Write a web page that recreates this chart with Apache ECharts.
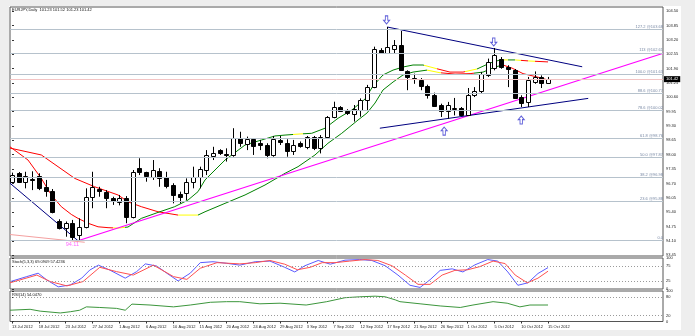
<!DOCTYPE html>
<html>
<head>
<meta charset="utf-8">
<script src="https://cdn.jsdelivr.net/npm/echarts@6/dist/echarts.min.js"></script>
<style>
  html, body { margin: 0; padding: 0; background: #eeeeee; }
  #chart { width: 695px; height: 336px; }
</style>
</head>
<body>
<div id="chart"></div>
<script>
// EURJPY daily candles, bar 0 = 13 Jul 2012 ... bar 80 = 15 Oct 2012
const open  = [96.77,97.17,96.78,96.88,97.05,96.55,96.36,95.00,94.67,94.90,94.37,94.74,96.10,96.45,96.33,96.03,95.88,96.06,95.20,97.41,
               97.20,97.01,97.26,97.01,96.63,96.21,96.25,96.75,97.01,97.31,97.94,98.21,98.03,97.99,98.77,98.49,98.70,98.52,98.44,97.99,
               98.67,98.55,98.18,98.52,98.37,98.79,98.29,98.79,99.69,100.17,99.98,99.84,100.02,100.48,101.05,102.74,102.59,102.80,102.95,101.77,
               101.47,101.37,101.11,100.69,100.24,99.98,100.06,100.11,99.81,100.69,100.87,101.62,101.92,102.34,101.97,101.82,100.61,100.39,101.29,101.52,
               101.23];
const high  = [97.19,97.22,97.23,97.25,97.16,96.86,96.45,95.08,94.98,95.05,95.12,96.48,97.23,96.55,96.40,96.10,96.18,96.13,97.31,97.84,
               97.23,97.76,97.39,97.23,96.71,96.33,96.93,97.46,97.46,98.21,98.36,98.25,98.29,99.20,99.04,98.82,98.74,98.67,98.52,98.85,
               98.85,98.70,98.67,98.60,98.85,98.85,98.89,99.75,100.40,100.20,100.06,100.25,100.55,101.16,102.89,102.82,103.78,103.19,103.60,101.82,
               101.67,101.47,101.17,100.81,100.31,100.39,100.57,100.16,101.02,101.06,101.74,102.35,102.83,102.42,102.05,101.88,100.69,101.52,101.77,101.59,
               101.52];
const low   = [96.72,96.72,96.48,96.40,96.40,96.10,95.35,94.62,94.29,94.11,94.14,94.67,95.58,96.10,95.58,95.73,95.71,94.90,95.12,97.08,
               96.78,96.86,96.55,96.48,95.80,95.80,95.95,96.48,96.48,97.08,97.76,97.99,97.69,97.91,98.36,98.21,97.99,98.21,97.84,97.91,
               98.44,97.91,97.99,98.32,98.25,98.21,98.06,98.74,99.65,99.95,99.80,99.50,99.72,100.02,101.01,102.56,102.56,102.56,101.79,100.92,
               101.21,100.92,100.54,100.16,99.71,99.63,99.78,99.78,99.75,100.61,100.76,101.52,101.82,101.89,101.06,100.52,100.16,100.16,101.21,101.02,
               101.23];
const close = [97.08,96.77,97.05,96.85,96.48,96.37,95.40,94.67,94.90,94.29,94.74,96.10,96.55,96.36,96.03,95.91,96.03,95.20,97.23,97.20,
               97.05,97.31,96.96,96.60,96.18,96.10,96.78,97.01,97.34,97.99,98.06,98.06,97.97,98.77,98.52,98.70,98.40,98.43,97.99,98.70,
               98.58,98.18,98.44,98.40,98.79,98.29,98.79,99.69,100.17,99.99,99.87,100.06,100.48,101.05,102.77,102.62,102.89,102.95,101.82,101.52,
               101.41,101.11,100.69,100.20,99.98,100.24,100.10,99.81,100.72,100.87,101.67,102.20,102.50,101.97,101.87,100.57,100.35,101.37,101.52,101.23,
               101.42];

// time-scale labels, one every 4 bars
const tickDates = ['13 Jul 2012','18 Jul 2012','23 Jul 2012','27 Jul 2012','1 Aug 2012','6 Aug 2012','10 Aug 2012','15 Aug 2012',
                   '20 Aug 2012','24 Aug 2012','29 Aug 2012','3 Sep 2012','7 Sep 2012','12 Sep 2012','17 Sep 2012','21 Sep 2012',
                   '26 Sep 2012','1 Oct 2012','5 Oct 2012','10 Oct 2012','15 Oct 2012'];
const priceTicks = [93.45,94.10,94.75,95.40,96.05,96.70,97.35,98.00,98.65,99.30,99.95,100.60,101.25,101.90,102.55,103.20,103.85,104.50];
const lastPrice = 101.42;
const swingLow = 94.11;

// Fibonacci expansion levels
const fibLevels = [103.68,102.61,101.63,100.77,100.02,98.76,97.87,96.98,95.88,94.11];
const fibLabels = ['127.2 @103.68','113 @102.61','100.0 @101.63','88.6 @100.77','78.6 @100.02',
                   '61.8 @98.76','50.0 @97.87','38.2 @96.98','23.6 @95.88','0.0'];

// moving averages [bar, price]; colour by slope: red falling, yellow flat, green rising
const maA = [[-0.3,98.36],[2.39,97.76],[4.37,96.93],[5.87,96.18],[7.36,95.65],[8.85,95.30],[9.85,95.12],[11.34,94.90],[12.84,94.74],
             [14.33,94.70],[15.82,94.68],[17.31,94.73],[19.3,95.12],[21.79,95.39],[24.28,95.65],[26.27,95.95],[27.76,96.33],[28.81,96.86],
             [31.79,97.76],[34.78,98.44],[37.27,98.67],[39.25,98.85],[40.75,98.89],[42.99,98.94],[44.73,98.97],[46.72,99.20],[48.66,99.65],
             [50.7,100.02],[52.69,100.52],[53.88,101.11],[55.37,101.61],[56.87,101.83],[58.36,101.97],[59.85,102.06],[61.34,102.06],
             [63.43,101.89],[65.37,101.74],[67.31,101.74],[69.4,101.88],[71.34,102.15],[72.84,102.29],[75.07,102.29],[77.31,102.24],[80,102.20]];
const maAColors = [[-1,15.1,'#ff0000'],[15.1,16.8,'#ffff00'],[16.8,42.0,'#008000'],[42.0,43.5,'#ffff00'],[43.5,61.5,'#008000'],
                   [61.5,63.4,'#ffff00'],[63.4,67.6,'#ff0000'],[67.6,69.4,'#ffff00'],[69.4,73,'#008000'],[73,74,'#ffff00'],
                   [74,75,'#008000'],[75,76,'#ffff00'],[76,77,'#ff0000'],[77,78,'#ffff00'],[78,81,'#ff0000']];
const maB = [[-0.3,98.30],[4.37,97.99],[9.36,96.93],[12.34,96.55],[15.82,96.18],[17.31,95.87],[19.3,95.65],[21.79,95.42],[24.78,95.27],
             [27.76,95.27],[28.81,95.42],[31.79,95.80],[34.78,96.18],[37.76,96.63],[40.75,97.16],[42.69,97.46],[45.22,97.99],[47.16,98.52],
             [49.21,98.97],[51.64,99.57],[52.99,99.89],[54.18,100.34],[55.37,100.93],[56.87,101.29],[58.36,101.61],[59.85,101.74],[61.94,101.83],
             [63.88,101.71],[66.12,101.65],[68.36,101.67],[70.3,101.74],[72.09,101.97],[73.28,102.06],[74.63,101.92],[76.27,101.67],[78.36,101.52],[80,101.38]];
const maBColors = [[-1,24.8,'#ff0000'],[24.8,27.8,'#ffff00'],[27.8,62,'#008000'],[62,64,'#ffff00'],[64,69,'#ff0000'],
                   [69,73.3,'#008000'],[73.3,81,'#ff0000']];

// trend lines [bar, price]
const lineSupport   = [[9.85,94.11],[97.2,102.59]];
const lineFall      = [[-0.3,96.71],[9.85,94.11]];
const lineOldLow    = [[-0.3,94.39],[10.85,94.04]];
const lineWedgeTop  = [[56,103.78],[85.1,101.98]];
const lineWedgeBase = [[54.9,99.20],[86,100.55]];
const arrowsDown = [[55.9,104.10],[71.9,103.10]];
const arrowsUp   = [[64.5,99.07],[76,99.57]];

// Stochastic(5,3,3) and RSI(14) readings [bar, value]
const stochK = [[-0.3,23.5],[2.2,40],[3.9,51],[5.2,29],[6.9,7],[8.7,13],[10.4,35],[11.6,61],[12.9,77],[14.6,61],[16.9,35],[18.6,56],
                [19.9,81],[21.6,74],[23.1,51],[24.8,26],[26.6,51],[28.1,85],[30,88],[32,83],[34,77],[36.3,88],[38.5,90],[40.7,70],
                [42.2,55],[43.7,75],[45.7,92],[47.5,80],[49.7,93],[51.9,95],[53.7,92],[55.7,75],[57.6,45],[59.4,12],[60.9,5],[62.4,30],
                [63.9,60],[65.7,65],[67.3,55],[69.1,78],[71,95],[72.5,90],[74,55],[75.5,12],[77,20],[78.5,50],[80,69.09]];
const stochD = [[-0.3,20],[3.7,45],[5.7,24],[8.2,10],[10.6,24],[13.1,70],[15.6,56],[18.1,45],[21.1,77],[24.1,40],[26.1,31],[28.1,67],
                [30.6,85],[34,81],[36.3,85],[38.5,92],[40.7,80],[42.6,62],[44.5,70],[46.3,85],[48.2,85],[50.4,90],[52.7,95],[54.6,92],
                [56.7,75],[58.7,45],[60.6,15],[62.4,15],[64.2,45],[66.1,60],[68,62],[69.8,72],[71.8,90],[73.6,82],[75.1,45],[76.9,20],
                [78.5,35],[80,57.42]];
const rsi = [[-0.3,37],[2.7,40],[4.2,34],[7.2,28],[8.7,32],[10.1,37],[11.1,48],[13.1,46],[15.6,43],[16.9,37],[17.9,57],[20.6,54],
             [24.1,48],[26.6,54],[29.6,63],[32,65],[34,65],[37,58],[40,60],[43.9,54],[46.97,65],[49.7,78],[51.9,81],[54.2,83],
             [55.7,81],[57.2,71],[57.9,65],[60.9,58],[63.9,51],[66.9,46],[68.8,54],[71.8,65],[73.9,60],[75.8,48],[77.3,54],[80,54.05]];
const stochLevels = [25, 75];
const rsiLevels = [20, 80];

// ---------------------------------------------------------------
const FONT = 'Liberation Sans';
const xMin = -0.3, xMax = 97.16;
const tickIdx = tickDates.map((d, k) => k * 4);
const candles = open.map((o, i) => [i, o, close[i], low[i], high[i]]);

function pieces(spec) {
  return spec.map(s => ({ gte: s[0], lt: s[1], color: s[2] }));
}

function xAxisFor(gridIndex, withLabels) {
  return {
    type: 'value', gridIndex, min: xMin, max: xMax,
    splitLine: { show: false }, axisLine: { show: false },
    axisTick: withLabels ? { show: true, customValues: tickIdx, length: 2, lineStyle: { color: '#333' } } : { show: false },
    axisLabel: withLabels ? {
      show: true, customValues: tickIdx, align: 'left', margin: 3,
      fontSize: 4, fontFamily: FONT, color: '#222',
      formatter: v => tickDates[Math.round(v / 4)] || ''
    } : { show: false }
  };
}

function sideAxis(gridIndex, min, max, values, fmt) {
  return {
    type: 'value', gridIndex, position: 'right', min, max,
    splitLine: { show: false },
    axisLine: { show: false },
    axisTick: { show: true, customValues: values, length: 2, lineStyle: { color: '#333' } },
    axisLabel: { show: true, customValues: values, margin: 3, fontSize: 4, fontFamily: FONT, color: '#222', formatter: fmt }
  };
}

function levelLines(levels) {
  return {
    symbol: 'none', silent: true, label: { show: false },
    lineStyle: { type: [1, 2], color: '#9a9a9a', width: 1 },
    data: levels.map(v => ({ yAxis: v }))
  };
}

function trend(data, color, width) {
  return {
    type: 'line', xAxisIndex: 0, yAxisIndex: 0, data, symbol: 'none', clip: true, z: 3,
    lineStyle: { color, width: width || 1 }, silent: true
  };
}

const series = [
  // 0: Fibonacci levels and last-price line
  {
    type: 'line', xAxisIndex: 0, yAxisIndex: 0, data: [[0, swingLow]], symbol: 'none', z: 1, silent: true,
    lineStyle: { opacity: 0 },
    markLine: {
      symbol: 'none', silent: true, animation: false,
      data: fibLevels.map((v, k) => ({
        yAxis: v,
        lineStyle: { color: '#b6c2cc', width: 1, type: 'solid' },
        label: { show: true, position: 'insideEndTop', distance: [0, 0.5], formatter: fibLabels[k],
                 fontSize: 4, fontFamily: FONT, color: '#7888a4' }
      })).concat([{
        yAxis: lastPrice,
        lineStyle: { color: '#f2c4c4', width: 1, type: 'solid' },
        label: { show: true, position: 'end', distance: 1, formatter: lastPrice.toFixed(2),
                 fontSize: 4, fontFamily: FONT, color: '#fff', backgroundColor: '#000', padding: [1, 2, 1, 2] }
      }])
    }
  },
  // 1-2: moving averages
  { type: 'line', xAxisIndex: 0, yAxisIndex: 0, data: maB, symbol: 'none', z: 3, silent: true, lineStyle: { width: 1 } },
  { type: 'line', xAxisIndex: 0, yAxisIndex: 0, data: maA, symbol: 'none', z: 3, silent: true, lineStyle: { width: 1 } },
  // 3-7: trend lines
  trend(lineSupport, '#ff00ff', 1.2),
  trend(lineFall, '#000080', 1),
  trend(lineOldLow, '#f4a0a0', 1),
  trend(lineWedgeTop, '#000080', 1),
  trend(lineWedgeBase, '#000080', 1),
  // 8: candles
  {
    type: 'custom', xAxisIndex: 0, yAxisIndex: 0, data: candles, z: 4, clip: true, silent: true,
    encode: { x: 0, y: [1, 2, 3, 4] },
    renderItem(params, api) {
      const i = api.value(0), o = api.value(1), c = api.value(2), l = api.value(3), h = api.value(4);
      const pO = api.coord([i, o]), pC = api.coord([i, c]);
      const pL = api.coord([i, l]), pH = api.coord([i, h]);
      const x = Math.round(pO[0]) + 0.5;
      const top = Math.round(Math.min(pO[1], pC[1])) + 0.5;
      const bot = Math.round(Math.max(pO[1], pC[1])) + 0.5;
      return {
        type: 'group',
        children: [
          { type: 'line', shape: { x1: x, y1: pH[1], x2: x, y2: pL[1] }, style: { stroke: '#000', lineWidth: 1 } },
          { type: 'rect', shape: { x: x - 2, y: top, width: 4, height: Math.max(1, bot - top) },
            style: { fill: c >= o ? '#fff' : '#000', stroke: '#000', lineWidth: 1 } }
        ]
      };
    }
  },
  // 9: swing low caption
  {
    type: 'scatter', xAxisIndex: 0, yAxisIndex: 0, data: [[9, swingLow]], symbolSize: 0, z: 5, silent: true,
    label: { show: true, position: 'bottom', distance: 1, formatter: () => swingLow.toFixed(2),
             fontSize: 5.5, fontFamily: FONT, color: '#ff40ff' }
  },
  // 10-11: swing arrows
  {
    type: 'scatter', xAxisIndex: 0, yAxisIndex: 0, data: arrowsDown, z: 6, silent: true,
    symbol: 'path://M3,0 L7,0 L7,6 L10,6 L5,11 L0,6 L3,6 Z', symbolSize: [6, 8],
    itemStyle: { color: '#fff', borderColor: '#3a3ad0', borderWidth: 1 }
  },
  {
    type: 'scatter', xAxisIndex: 0, yAxisIndex: 0, data: arrowsUp, z: 6, silent: true,
    symbol: 'path://M5,0 L10,5 L7,5 L7,11 L3,11 L3,5 L0,5 Z', symbolSize: [6, 8],
    itemStyle: { color: '#fff', borderColor: '#3a3ad0', borderWidth: 1 }
  },
  // 12-13: stochastic
  { type: 'line', xAxisIndex: 1, yAxisIndex: 1, data: stochK, symbol: 'none', silent: true, clip: true,
    lineStyle: { color: '#5a5aff', width: 1 }, markLine: levelLines(stochLevels) },
  { type: 'line', xAxisIndex: 1, yAxisIndex: 1, data: stochD, symbol: 'none', silent: true, clip: true,
    lineStyle: { color: '#ff5050', width: 1 } },
  // 14: RSI
  { type: 'line', xAxisIndex: 2, yAxisIndex: 2, data: rsi, symbol: 'none', silent: true, clip: true,
    lineStyle: { color: '#3c963c', width: 1 }, markLine: levelLines(rsiLevels) }
];

const chart = echarts.init(document.getElementById('chart'), null, { renderer: 'canvas' });
chart.setOption({
  animation: false,
  backgroundColor: '#eeeeee',
  textStyle: { fontFamily: FONT },
  graphic: [{ type: 'rect', left: 9, top: 6, z: -10, silent: true, shape: { width: 672, height: 324 }, style: { fill: '#fff' } }],
  title: [
    { text: 'EURJPY,Daily  101.23 101.52 101.23 101.42', left: 12, top: 8, padding: 0,
      textStyle: { fontSize: 4, fontWeight: 'normal', color: '#111', fontFamily: FONT } },
    { text: 'Stoch(5,3,3) 69.0909 57.4236', left: 12, top: 260, padding: 0,
      textStyle: { fontSize: 4, fontWeight: 'normal', color: '#111', fontFamily: FONT } },
    { text: 'RSI(14) 54.0470', left: 12, top: 293, padding: 0,
      textStyle: { fontSize: 4, fontWeight: 'normal', color: '#111', fontFamily: FONT } }
  ],
  grid: [
    { left: 10, right: 32, top: 7, height: 249, show: true, backgroundColor: '#fff', borderColor: '#555', borderWidth: 1 },
    { left: 10, right: 32, top: 258, height: 31, show: true, backgroundColor: '#fff', borderColor: '#555', borderWidth: 1 },
    { left: 10, right: 32, top: 291, height: 30.5, show: true, backgroundColor: '#fff', borderColor: '#555', borderWidth: 1 }
  ],
  xAxis: [xAxisFor(0, false), xAxisFor(1, false), xAxisFor(2, true)],
  yAxis: [
    sideAxis(0, 93.418, 104.685, priceTicks, v => v.toFixed(2)),
    sideAxis(1, 0, 100, [0, 25, 75, 100], v => String(Math.round(v))),
    sideAxis(2, 0, 100, [0, 20, 80, 100], v => String(Math.round(v)))
  ],
  visualMap: [
    { type: 'piecewise', show: false, seriesIndex: 1, dimension: 0, pieces: pieces(maBColors) },
    { type: 'piecewise', show: false, seriesIndex: 2, dimension: 0, pieces: pieces(maAColors) }
  ],
  series
});
</script>
</body>
</html>
